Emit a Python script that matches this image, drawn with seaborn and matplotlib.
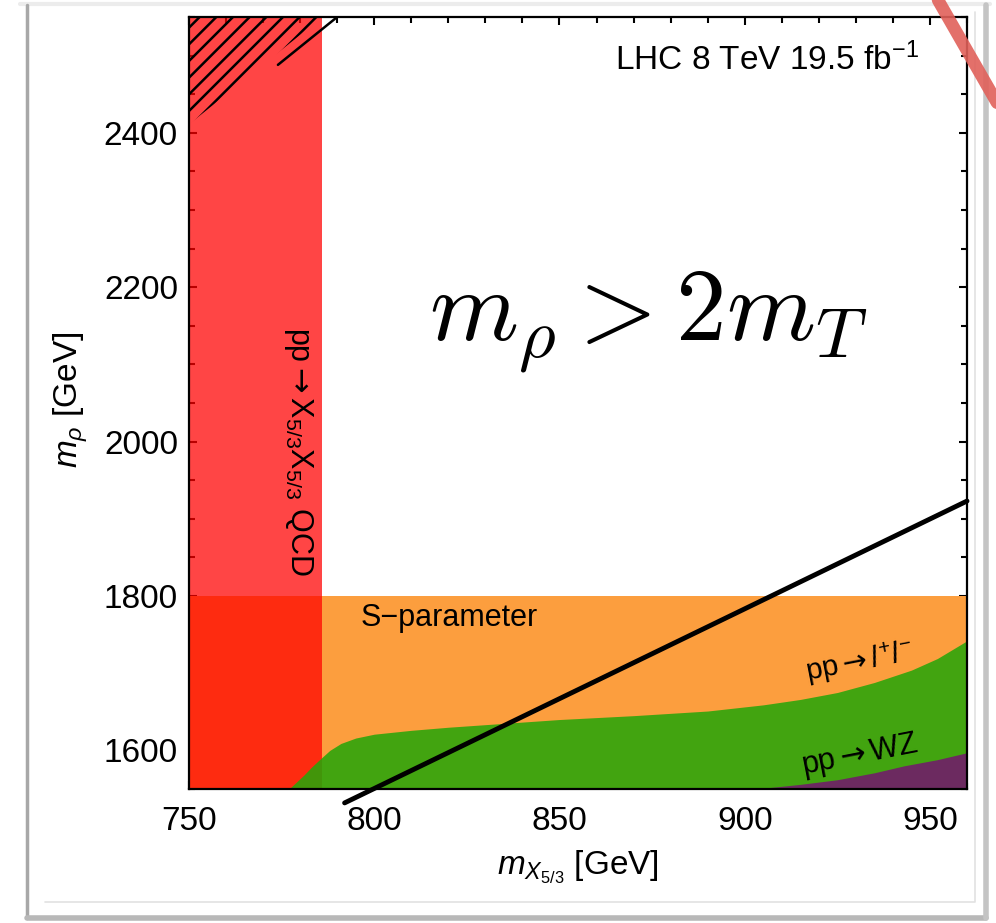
# Exclusion regions in the (m_X5/3, m_rho) plane, LHC 8 TeV
import numpy as np
import matplotlib.pyplot as plt
import seaborn as sns
from matplotlib.ticker import MultipleLocator
from matplotlib.lines import Line2D

# axis ranges
x_range = [750, 960]
y_range = [1550, 2550]

# QCD pair production bound on m_X5/3 and S-parameter bound on m_rho
qcd_limit = 786
s_limit = 1800

# pp -> l+ l- boundary
ll_x = [777, 779, 781, 783, 785, 788, 791, 795, 800, 810, 820, 835, 850, 870,
        890, 905, 915, 925, 935, 945, 952, 960]
ll_y = [1550, 1559, 1568, 1578, 1587, 1600, 1609, 1616, 1621, 1626, 1630, 1635, 1640, 1645,
        1651, 1659, 1666, 1675, 1688, 1704, 1719, 1742]

# pp -> WZ boundary
wz_x = [903, 915, 925, 935, 943, 952, 960]
wz_y = [1550, 1556, 1562, 1571, 1580, 1588, 1597]

# m_rho = 2 m_T line
line_x = [792, 960]
line_y = [1532, 1923]

# hatched corner
hatch_x = [750, 786]
hatch_lo = [2411, 2550]
hatch_extra_x = [774, 790]
hatch_extra_y = [2488, 2550]

sns.set_theme(style='ticks')
plt.rcParams['font.family'] = ['Liberation Sans', 'DejaVu Sans']
plt.rcParams['mathtext.fontset'] = 'custom'
plt.rcParams['mathtext.rm'] = 'Liberation Sans'
plt.rcParams['mathtext.it'] = 'Liberation Sans:italic'
plt.rcParams['mathtext.bf'] = 'Liberation Sans:bold'
plt.rcParams['mathtext.sf'] = 'DejaVu Sans'
plt.rcParams['hatch.linewidth'] = 1.8
plt.rcParams['text.color'] = 'black'
plt.rcParams['axes.labelcolor'] = 'black'

fig = plt.figure(figsize=(9.96, 9.23), dpi=100)
ax = fig.add_axes([189 / 996, 1 - 789 / 923, 778 / 996, 772 / 923])

orange = '#FC9E3E'
green = (0.157, 0.647, 0.039)
purple = '#6C2A60'

ax.fill_between(x_range, y_range[0], s_limit, color=orange, lw=0, zorder=1)
ax.fill_betweenx(y_range, x_range[0], qcd_limit, color='red', alpha=0.73, lw=0, zorder=2)
ax.fill_between(ll_x, y_range[0], ll_y, color=green, alpha=0.88, lw=0, zorder=3)
ax.fill_between(wz_x, y_range[0], wz_y, color=purple, lw=0, zorder=4)
ax.fill_between(hatch_x, hatch_lo, y_range[1], facecolor='none', edgecolor='black',
                hatch='//', lw=0, zorder=5)
ax.plot(hatch_extra_x, hatch_extra_y, color='black', lw=1.8, zorder=5)

sns.lineplot(x=line_x, y=line_y, color='black', lw=3.5, ax=ax, zorder=6)
ax.lines[-1].set_clip_on(False)

ax.set_xlim(x_range)
ax.set_ylim(y_range)
ax.xaxis.set_major_locator(MultipleLocator(50))
ax.xaxis.set_minor_locator(MultipleLocator(10))
ax.yaxis.set_major_locator(MultipleLocator(200))
ax.yaxis.set_minor_locator(MultipleLocator(50))
ax.tick_params(which='both', direction='in', top=True, right=True, width=1.5,
               colors='black', labelsize=24)
ax.tick_params(axis='x', pad=12)
ax.tick_params(axis='y', pad=8)
ax.tick_params(which='major', length=6)
ax.tick_params(which='minor', length=4)
for s in ax.spines.values():
    s.set_linewidth(1.6)
    s.set_color('black')
    s.set_zorder(10)

arrow = r'$\mathsf{\rightarrow}$'
ax.set_xlabel(r'$m_{X_{\mathregular{5/3}}}$ [GeV]', fontsize=24, va='center')
ax.xaxis.set_label_coords(0.4994, -0.102)
ax.set_ylabel(r'$m_\rho$ [GeV]', fontsize=24, va='center')
ax.yaxis.set_label_coords(-0.152, 0.504)

ax.text(865.0, 2481, r'LHC 8 TeV 19.5 fb$^{-1}$', fontsize=24, ha='left', va='baseline', zorder=7)
ax.text(874, 2155, r'$m_\rho > 2m_T$', math_fontfamily='cm', fontsize=73,
        ha='center', va='center', zorder=7)
ax.text(796.2, 1761, 'S\u2212parameter', fontsize=22, ha='left', va='baseline', zorder=7)
ax.text(779.5, 1987, 'pp' + arrow + r'X$_{\mathregular{5/3}}$X$_{\mathregular{5/3}}$ QCD',
        fontsize=22, rotation=-90, ha='center', va='center', zorder=7)
ax.text(931, 1714, 'pp' + arrow + r'$l^{+}l^{-}$', fontsize=21, rotation=11,
        ha='center', va='center', zorder=7)
ax.text(931, 1594, 'pp' + arrow + 'WZ', fontsize=22, rotation=11,
        ha='center', va='center', zorder=7)

# card frame with shadow
def fig_line(xs, ys, **kw):
    fig.lines.append(Line2D([v / 996 for v in xs], [1 - v / 923 for v in ys],
                            transform=fig.transFigure, **kw))

fig_line([20, 990], [4, 4], color='#ececec', lw=3)
fig_line([27, 27], [5, 918], color='#a8a8a8', lw=2.5)
fig_line([27, 986], [918, 918], color='#b8b8b8', lw=4)
fig_line([986, 986], [5, 918], color='#c4c4c4', lw=4)
fig_line([45, 975, 975], [902, 902, 12], color='#e2e2e2', lw=1.2)
# red pen stroke in the corner
fig_line([938, 1000], [0, 108], color='#E0605A', lw=9, alpha=0.9, solid_capstyle='round')

fig.savefig('out.png', dpi=100)
